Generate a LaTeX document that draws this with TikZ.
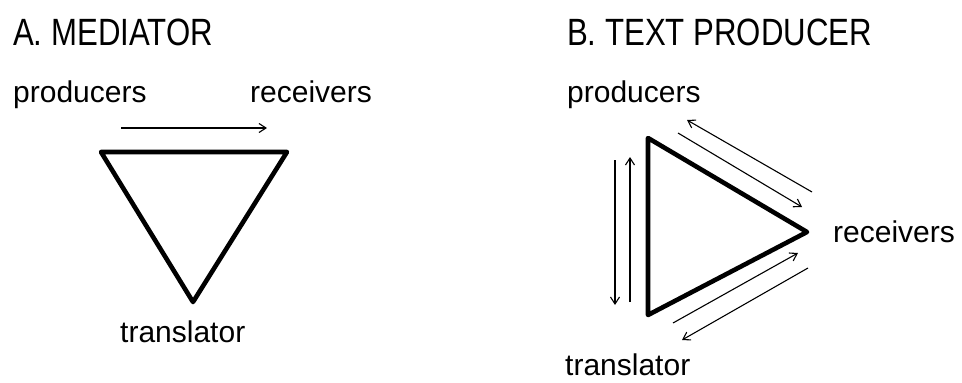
\documentclass[tikz,border=0pt]{standalone}
\usepackage{fontspec}
\setmainfont{Liberation Sans}
\newfontfamily\headfont[FakeStretch=0.82]{Liberation Sans}
\usetikzlibrary{arrows.meta}
\begin{document}
\begin{tikzpicture}[x=1pt,y=-1pt,
  heading/.style={anchor=base west,inner sep=0pt,font=\headfont\fontsize{38}{40}\selectfont},
  label/.style={anchor=base west,inner sep=0pt,font=\fontsize{30}{32}\selectfont},
  tri/.style={line width=4.6pt,line join=round,line cap=round},
  flow/.style={line width=1.1pt,-{Straight Barb[length=7pt,width=9pt,line width=1.1pt]}}]
\useasboundingbox (0,0) rectangle (962,383);

% ---- A. mediator ----
\node[heading] (titleA) at (13,45) {A. MEDIATOR};
\node[label] (prodA) at (13,102) {producers};
\node[label] (recA) at (250,102) {receivers};
\node[label] (transA) at (120,342) {translator};

\coordinate (a1) at (101,152);
\coordinate (a2) at (287,152);
\coordinate (a3) at (193,302);
\draw[tri] (a1) -- (a2) -- (a3) -- cycle;

\coordinate (aS) at (121,128);
\coordinate (aE) at (267,128);
\draw[flow] (aS) -- (aE);

% ---- B. text producer ----
\node[heading] (titleB) at (567,45) {B. TEXT PRODUCER};
\node[label] (prodB) at (567,102) {producers};
\node[label] (recB) at (833,242) {receivers};
\node[label] (transB) at (565,375) {translator};

\coordinate (b1) at (648,138);
\coordinate (b2) at (648,315);
\coordinate (b3) at (807,232);
\draw[tri] (b1) -- (b3) -- (b2) -- cycle;

% arrows along the left side
\coordinate (l1s) at (615,160);
\coordinate (l1e) at (615,305);
\coordinate (l2s) at (630,302);
\coordinate (l2e) at (630,157);
\draw[flow] (l1s) -- (l1e);
\draw[flow] (l2s) -- (l2e);

% arrows along the upper side
\coordinate (u1s) at (812,192);
\coordinate (u1e) at (687,120);
\coordinate (u2s) at (678,133);
\coordinate (u2e) at (802,207);
\draw[flow] (u1s) -- (u1e);
\draw[flow] (u2s) -- (u2e);

% arrows along the lower side
\coordinate (d1s) at (673,323);
\coordinate (d1e) at (798,253);
\coordinate (d2s) at (808,268);
\coordinate (d2e) at (682,340);
\draw[flow] (d1s) -- (d1e);
\draw[flow] (d2s) -- (d2e);
\end{tikzpicture}
\end{document}
